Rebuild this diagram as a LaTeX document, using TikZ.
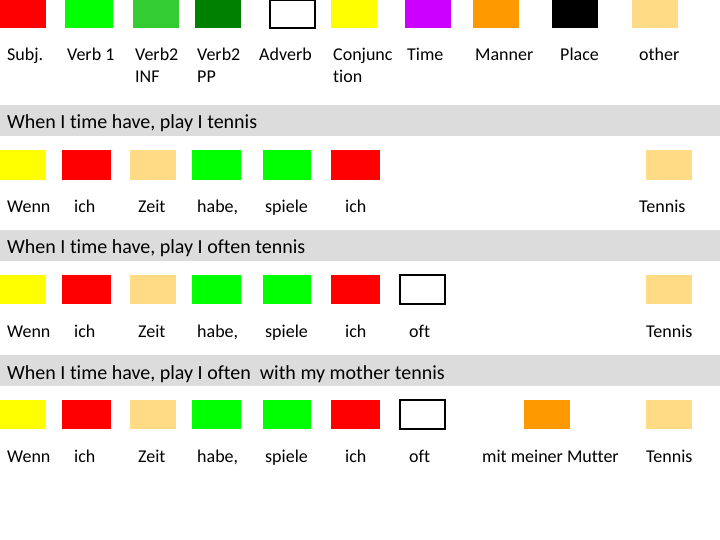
\documentclass[tikz,border=0pt]{standalone}
\usepackage{fontspec}
\setmainfont{Carlito}[Ligatures=NoCommon]
\definecolor{subjred}{HTML}{FF0000}
\definecolor{verbgreen}{HTML}{00FF00}
\definecolor{infgreen}{HTML}{33CC33}
\definecolor{ppgreen}{HTML}{008000}
\definecolor{conjyellow}{HTML}{FFFF00}
\definecolor{timepurple}{HTML}{CC00FF}
\definecolor{mannerorange}{HTML}{FF9900}
\definecolor{othertan}{HTML}{FFDB86}
\definecolor{bandgray}{HTML}{DCDCDC}
\tikzset{
  word/.style={anchor=base west, inner sep=0pt, font=\fontsize{18}{22}\selectfont, align=left},
  bandtext/.style={anchor=base west, inner sep=0pt, font=\fontsize{20}{24}\selectfont},
  advbox/.style={draw=black, line width=1.6pt, fill=white}
}
\begin{document}
\begin{tikzpicture}[x=1pt,y=-1pt]

\def\SUBJ{subjred}
\def\VERB{verbgreen}
\def\CONJ{conjyellow}
\def\OTHER{othertan}
	\useasboundingbox (0,0) rectangle (720,540);
	% legend
	\fill[\SUBJ] (0,0) rectangle ++ (46,28);
	\fill[\VERB] (65,0) rectangle ++ (48,28);
	\fill[infgreen] (133,0) rectangle ++ (46,28);
	\fill[ppgreen] (195,0) rectangle ++ (46,28);
	\draw[advbox] (270,0) rectangle ++ (45,28);
	\fill[\CONJ] (331,0) rectangle ++ (46,28);
	\fill[timepurple] (405,0) rectangle ++ (46,28);
	\fill[mannerorange] (473,0) rectangle ++ (46,28);
	\fill[black] (552,0) rectangle ++ (46,28);
	\fill[\OTHER] (632,0) rectangle ++ (46,28);
	\node[word] (lsubj) at (7,61) {Subj.};
	\node[word] (lverbone) at (67,61) {Verb 1};
	\node[word] (linf) at (135,83) {Verb2\\INF};
	\node[word] (lpp) at (197,83) {Verb2\\PP};
	\node[word] (ladv) at (259,61) {Adverb};
	\node[word] (lconj) at (333,83) {Conjunc\\tion};
	\node[word] (ltime) at (407,61) {Time};
	\node[word] (lmanner) at (475,61) {Manner};
	\node[word] (lplace) at (560,61) {Place};
	\node[word] (lother) at (639,61) {other};

	% sentence 1
	\fill[bandgray] (0,105) rectangle (720,136);
	\node[bandtext] (sone) at (7,129) {When I time have, play I tennis};
	\fill[\CONJ] (0,150) rectangle ++ (46,30);
	\fill[\SUBJ] (62,150) rectangle ++ (49,30);
	\fill[\OTHER] (130,150) rectangle ++ (46,30);
	\fill[\VERB] (192,150) rectangle ++ (49,30);
	\fill[\VERB] (263,150) rectangle ++ (48,30);
	\fill[\SUBJ] (331,150) rectangle ++ (49,30);
	\fill[\OTHER] (646,150) rectangle ++ (46,30);
	\node[word] (aone) at (7,212) {Wenn};
	\node[word] (bone) at (74,212) {ich};
	\node[word] (cone) at (138,212) {Zeit};
	\node[word] (done) at (197,212) {habe,};
	\node[word] (eone) at (265,212) {spiele};
	\node[word] (fone) at (345,212) {ich};
	\node[word] (gone) at (639,212) {Tennis};

	% sentence 2
	\fill[bandgray] (0,230) rectangle (720,261);
	\node[bandtext] (stwo) at (7,254) {When I time have, play I often tennis};
	\fill[\CONJ] (0,275) rectangle ++ (46,29);
	\fill[\SUBJ] (62,275) rectangle ++ (49,29);
	\fill[\OTHER] (130,275) rectangle ++ (46,29);
	\fill[\VERB] (192,275) rectangle ++ (49,29);
	\fill[\VERB] (263,275) rectangle ++ (48,29);
	\fill[\SUBJ] (331,275) rectangle ++ (49,29);
	\draw[advbox] (400,275) rectangle ++ (45,29);
	\fill[\OTHER] (646,275) rectangle ++ (46,29);
	\node[word] (atwo) at (7,337) {Wenn};
	\node[word] (btwo) at (74,337) {ich};
	\node[word] (ctwo) at (138,337) {Zeit};
	\node[word] (dtwo) at (197,337) {habe,};
	\node[word] (etwo) at (265,337) {spiele};
	\node[word] (ftwo) at (345,337) {ich};
	\node[word] (htwo) at (409,337) {oft};
	\node[word] (gtwo) at (646,337) {Tennis};

	% sentence 3
	\fill[bandgray] (0,355) rectangle (720,386);
	\node[bandtext] (sthree) at (7,379) {When I time have, play I often\ \ with my mother tennis};
	\fill[\CONJ] (0,400) rectangle ++ (46,29);
	\fill[\SUBJ] (62,400) rectangle ++ (49,29);
	\fill[\OTHER] (130,400) rectangle ++ (46,29);
	\fill[\VERB] (192,400) rectangle ++ (49,29);
	\fill[\VERB] (263,400) rectangle ++ (48,29);
	\fill[\SUBJ] (331,400) rectangle ++ (49,29);
	\draw[advbox] (400,400) rectangle ++ (45,29);
	\fill[mannerorange] (524,400) rectangle ++ (46,29);
	\fill[\OTHER] (646,400) rectangle ++ (46,29);
	\node[word] (athree) at (7,462) {Wenn};
	\node[word] (bthree) at (74,462) {ich};
	\node[word] (cthree) at (138,462) {Zeit};
	\node[word] (dthree) at (197,462) {habe,};
	\node[word] (ethree) at (265,462) {spiele};
	\node[word] (fthree) at (345,462) {ich};
	\node[word] (hthree) at (409,462) {oft};
	\node[word] (ithree) at (482,462) {mit meiner Mutter};
	\node[word] (gthree) at (646,462) {Tennis};

          \end{tikzpicture}
\end{document}
